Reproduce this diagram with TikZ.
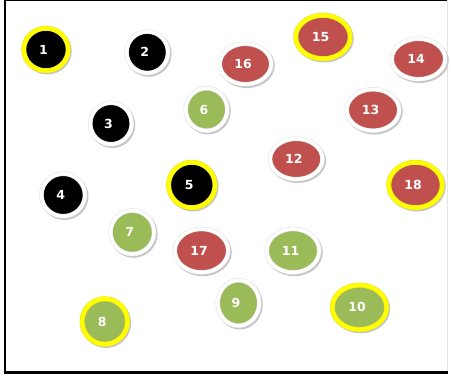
\documentclass[tikz,border=0pt]{standalone}
\usepackage{fontspec}
\newfontfamily\chipfont{DejaVu Sans}
\usetikzlibrary{shapes.geometric}
\definecolor{chipred}{HTML}{C0504D}
\definecolor{chipgreen}{HTML}{9BBB59}
\definecolor{chipblack}{HTML}{000000}
\definecolor{ringyellow}{HTML}{FFFF00}

\begin{document}
\begin{tikzpicture}[x=1pt,y=-1pt,
  chip/.style={ellipse,inner sep=0pt,fill=#1,draw=gray!25,line width=0.5pt,
    double=white,double distance=3.5pt},
  plain/.style={},
  marked/.style={draw=yellow!80!gray,double=ringyellow,double distance=4pt},
  chipshadow/.style={fill=gray!45},
  chiptext/.style={text=white,inner sep=0pt,xshift=-2.5pt,
    font=\chipfont\bfseries\fontsize{12.5}{12.5}\selectfont}]
  \useasboundingbox (0,0) rectangle (451,377);
  % frame
  \draw[line width=1pt] (5,0.5) -- (447.5,0.5);
  \draw[line width=2pt] (5,0) -- (5,373.7);
  \draw[line width=2.6pt] (4,372.5) -- (447.5,372.5);
  \draw[gray!20,line width=0.6pt] (447.5,0.5) -- (447.5,371);
  % chips: label/x/y/rx/ry/colour/ring
  \foreach \n/\x/\y/\rx/\ry/\col/\ring in {
    1/46/49.5/24.5/23.5/chipblack/marked,
    2/147.3/52.3/23/23/chipblack/plain,
    3/111/123.5/23/23/chipblack/plain,
    4/63.2/195/24/23.5/chipblack/plain,
    5/191.8/185/25.5/25/chipblack/marked,
    6/206.5/109.5/23/23.5/chipgreen/plain,
    7/132.3/232.3/24/24/chipgreen/plain,
    8/104.8/321.5/25/25/chipgreen/marked,
    9/238.5/303/23/25/chipgreen/plain,
    10/359.5/307.3/29.5/24.5/chipgreen/marked,
    11/293/250.7/28.5/24/chipgreen/plain,
    12/296.3/159/28.5/22.5/chipred/plain,
    13/373/110/28.5/23/chipred/plain,
    14/418.5/59/29/22.5/chipred/plain,
    15/323/37/29.5/24/chipred/marked,
    16/245.5/64/28/22.5/chipred/plain,
    17/201.5/250.7/29/24/chipred/plain,
    18/415.5/185/29/25/chipred/marked}{
    \pgfmathsetmacro{\w}{2*\rx-4.5}
    \pgfmathsetmacro{\h}{2*\ry-4.5}
    \fill[chipshadow] (\x+1.3,\y+1.5) ellipse [x radius=\rx, y radius=\ry];
    \node[chip=\col,\ring,minimum width=\w pt,minimum height=\h pt,
      label={[chiptext]center:\n}] (chip\n) at (\x,\y) {};
  }
\end{tikzpicture}
\end{document}
